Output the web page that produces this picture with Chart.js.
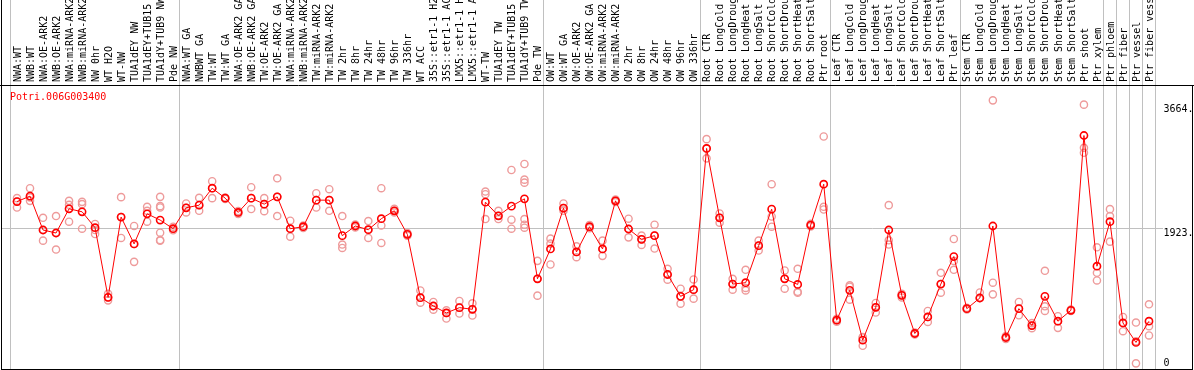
<!DOCTYPE html>
<html><head><meta charset="utf-8">
<script src="https://cdn.jsdelivr.net/npm/chart.js@4.4.1/dist/chart.umd.min.js"></script>
<style>html,body{margin:0;padding:0;background:#fff;overflow:hidden;} #wrap{width:1194px;height:370px;position:relative;}</style>
</head><body><div id="wrap"><canvas id="c" width="1194" height="370"></canvas></div>
<script>
const geneName = 'Potri.006G003400';

const categories = [
 'NWA:WT','NWB:WT','NWA:OE-ARK2','NWB:OE-ARK2','NWA:miRNA-ARK2','NWB:miRNA-ARK2','NW 0hr','WT H2O','WT-NW','TUA1dEY NW','TUA1dEY+TUB15 NW','TUA1dY+TUB9 NW','Pde NW',
 'NWA:WT GA','NWBWT GA','TW:WT','TW:WT GA','NWA:OE-ARK2 GA','NWB:OE-ARK2 GA','TW:OE-ARK2','TW:OE-ARK2 GA','NWA:miRNA-ARK2 GA','NWB:miRNA-ARK2 GA','TW:miRNA-ARK2','TW:miRNA-ARK2 GA',
 'TW 2hr','TW 8hr','TW 24hr','TW 48hr','TW 96hr','TW 336hr','WT ACC','35S::etr1-1 H2O','35S::etr1-1 ACC','LMX5::etr1-1 H2O','LMX5::etr1-1 ACC','WT-TW','TUA1dEY TW','TUA1dEY+TUB15 TW','TUA1dY+TUB9 TW','Pde TW',
 'OW:WT','OW:WT GA','OW:OE-ARK2','OW:OE-ARK2 GA','OW:miRNA-ARK2','OW:miRNA-ARK2 GA','OW 2hr','OW 8hr','OW 24hr','OW 48hr','OW 96hr','OW 336hr',
 'Root CTR','Root LongCold','Root LongDrought','Root LongHeat','Root LongSalt','Root ShortCold','Root ShortDrought','Root ShortHeat','Root ShortSalt','Ptr root',
 'Leaf CTR','Leaf LongCold','Leaf LongDrought','Leaf LongHeat','Leaf LongSalt','Leaf ShortCold','Leaf ShortDrought','Leaf ShortHeat','Leaf ShortSalt','Ptr leaf',
 'Stem CTR','Stem LongCold','Stem LongDrought','Stem LongHeat','Stem LongSalt','Stem ShortCold','Stem ShortDrought','Stem ShortHeat','Stem ShortSalt','Ptr shoot','Ptr xylem',
 'Ptr phloem','Ptr fiber','Ptr vessel','Ptr fiber vessel'
];

const groupStarts = [0, 13, 41, 53, 63, 73, 84, 85, 86, 87, 88];

const means = [
 2302,2378,1904,1862,2201,2159,1936,961,2085,1709,2131,2043,1922,
 2215,2252,2489,2350,2150,2350,2266,2368,1922,1950,2322,2322,
 1825,1960,1908,2062,2173,1843,956,840,743,817,794,2294,2103,2238,2340,1221,
 1639,2210,1597,1950,1639,2312,1918,1773,1825,1281,975,1068,
 3046,2075,1147,1166,1685,2196,1221,1142,1973,2545,
 641,1059,362,822,1904,989,455,687,1147,1532,
 803,952,1960,399,803,566,975,627,780,3227,1397,
 2020,603,330,627
];

const replicates = [
 [2350,2302,2219],[2489,2359,2312],[2075,1904,1755],[2099,1862,1630],[2312,2257,2020],[2298,2266,1922],[1988,1904,1848],[1012,961,919],[2364,2085,1793],[1960,1709,1458],[2229,2173,2020],[2368,2238,2219,1866,1764,1755],[1950,1922,1900],
 [2275,2215,2150],[2355,2252,2173],[2587,2489,2350],[2360,2350,2340],[2170,2150,2130],[2503,2350,2197],[2350,2266,2168],[2628,2368,2099],[2034,1922,1811],[1968,1950,1932],[2419,2322,2219],[2475,2322,2173],
 [2099,1700,1653],[1980,1960,1940],[2029,1908,1793],[2489,1968,1723],[2200,2173,2150],[1860,1843,1825],[1058,956,887],[896,840,789],[780,743,664],[910,817,734],[877,794,706],[2442,2405,2057],[2173,2103,2057],[2744,2048,1922],[2828,2609,2567,2057,1978,1936],[1472,1221,985],
 [1783,1713,1421],[2275,2210,2173],[1676,1597,1523],[1975,1950,1930],[1755,1639,1542],[2330,2312,2295],[2062,1918,1801],[1825,1773,1695],[1978,1825,1644],[1361,1281,1208],[1082,975,873],[1212,1068,943],
 [3176,3046,2907],[2135,2075,2006],[1221,1147,1068],[1347,1093,1058],[1755,1685,1616],[2545,2093,1950],[1337,1221,1082],[1361,1039,1026],[1990,1973,1955],[3213,2229,2191],
 [660,641,620],[1129,1110,929],[404,399,283],[882,822,748],[2252,1760,1700],[1010,989,960],[470,455,440],[771,687,617],[1305,1147,1026],[1778,1471,1347],
 [815,803,790],[1030,952,952],[3719,1166,1003],[420,399,380],[896,803,710],[600,566,530],[1333,836,771],[697,627,534],[790,780,770],[3659,3055,2985],[1662,1305,1198],
 [2196,2099,1741],[687,603,487],[608,345,37],[864,557,428]
];

const yTickValues = [0, 1923, 3664];
const yTickLabels = ['0', '1923.', '3664.'];
const yMin = -42, yMax = 3934;

const monoFont = '"DejaVu Sans Mono", "Liberation Mono", monospace';

const meanPoints = means.map((v, i) => ({x: i, y: v}));
const repPoints = replicates.flatMap((arr, i) => arr.map(v => ({x: i, y: v})));

const framePlugin = {
  id: 'frame',
  beforeDatasetsDraw(chart) {
    const {ctx, chartArea, scales: {x, y}} = chart;
    ctx.save();
    ctx.strokeStyle = '#c0c0c0';
    ctx.lineWidth = 1;
    ctx.beginPath();
    groupStarts.forEach(b => {
      const px = Math.floor(x.getPixelForValue(b - 0.5)) + 0.5;
      ctx.moveTo(px, 0);
      ctx.lineTo(px, chartArea.bottom);
    });
    const gy = Math.floor(y.getPixelForValue(yTickValues[1])) + 0.5;
    ctx.moveTo(2, gy);
    ctx.lineTo(1163, gy);
    ctx.stroke();
    ctx.restore();
  },
  afterDraw(chart) {
    const {ctx, chartArea, scales: {y}} = chart;
    ctx.save();
    ctx.strokeStyle = '#000';
    ctx.lineWidth = 1;
    ctx.beginPath();
    ctx.moveTo(1.5, 0); ctx.lineTo(1.5, 370);
    ctx.moveTo(0, chartArea.top + 0.5); ctx.lineTo(1194, chartArea.top + 0.5);
    ctx.moveTo(1, chartArea.bottom + 0.5); ctx.lineTo(1193, chartArea.bottom + 0.5);
    ctx.moveTo(1192.5, chartArea.top); ctx.lineTo(1192.5, chartArea.bottom + 1);
    ctx.stroke();
    ctx.font = '10px ' + monoFont;
    ctx.textBaseline = 'alphabetic';
    ctx.textAlign = 'left';
    ctx.fillStyle = '#ff0000';
    ctx.fillText(geneName, 10, chartArea.top + 15);
    ctx.fillStyle = '#000';
    yTickValues.forEach((v, k) => {
      const base = Math.min(y.getPixelForValue(v) + 7.5, chartArea.bottom - 3.5);
      ctx.fillText(yTickLabels[k], 1163.5, base);
    });
    ctx.restore();
  }
};

new Chart(document.getElementById('c'), {
  data: {
    datasets: [
      {
        type: 'line',
        label: 'mean',
        data: meanPoints,
        borderColor: '#ff0000',
        borderWidth: 1,
        pointRadius: 3.6,
        pointBorderWidth: 1.6,
        pointBorderColor: '#ff0000',
        pointBackgroundColor: 'rgba(255,255,255,0)',
        tension: 0,
        fill: false,
        order: 1
      },
      {
        type: 'scatter',
        label: 'replicates',
        data: repPoints,
        showLine: false,
        pointRadius: 3.6,
        pointBorderWidth: 1.4,
        pointBorderColor: 'rgb(238,155,155)',
        pointBackgroundColor: 'rgba(255,255,255,0)',
        order: 2
      }
    ]
  },
  options: {
    responsive: false,
    animation: false,
    events: [],
    layout: {autoPadding: false, padding: {left: 10.5, right: 38.5, top: 0, bottom: 1}},
    plugins: {legend: {display: false}, tooltip: {enabled: false}, title: {display: false}},
    scales: {
      x: {
        type: 'linear',
        position: 'top',
        min: -0.5,
        max: categories.length - 0.5,
        afterBuildTicks: (scale) => { scale.ticks = categories.map((c, i) => ({value: i})); },
        afterFit: (scale) => { scale.height = 85; scale.paddingLeft = 0; scale.paddingRight = 0; },
        grid: {display: false, drawTicks: false},
        border: {display: false},
        ticks: {
          autoSkip: false,
          minRotation: 90,
          maxRotation: 90,
          padding: 3,
          labelOffset: 13,
          color: '#000',
          font: {family: monoFont, size: 10},
          callback: (v) => categories[v]
        }
      },
      y: {
        type: 'linear',
        display: false,
        min: yMin,
        max: yMax
      }
    }
  },
  plugins: [framePlugin]
});
</script>
</body></html>
